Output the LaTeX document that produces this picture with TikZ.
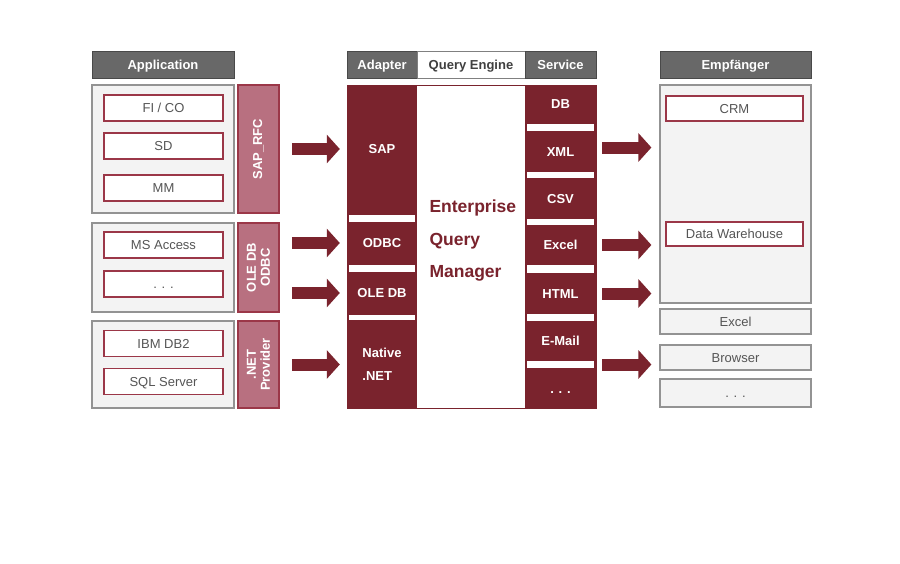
\documentclass[tikz,border=0pt]{standalone}
\usepackage{fontspec}
\setmainfont{Liberation Sans}
\usetikzlibrary{arrows.meta, positioning}

\definecolor{maroon}{RGB}{122,35,45}
\definecolor{rose}{RGB}{184,112,128}
\definecolor{roseline}{RGB}{155,55,72}
\definecolor{headgray}{RGB}{104,104,104}
\definecolor{boxgray}{RGB}{243,243,243}
\definecolor{txtgray}{RGB}{85,85,85}

\tikzset{
  onerow/.style={text height=9.4pt, text depth=0pt},
  head/.style={draw=headgray!70!black, fill=headgray, text=white, line width=1pt, onerow,
    font=\bfseries\fontsize{13}{15}\selectfont, inner sep=0pt, minimum height=27pt},
  group/.style={draw=gray!85, fill=boxgray, line width=1.2pt, inner sep=0pt, minimum width=142pt},
  item/.style={draw=roseline, fill=white, line width=1.3pt, text=txtgray, inner sep=0pt, onerow,
    font=\fontsize{13}{15}\selectfont},
  side/.style={draw=roseline, fill=rose, text=white, line width=1.2pt, rotate=90, align=center,
    font=\bfseries\fontsize{13}{14}\selectfont, inner sep=0pt, minimum height=41pt},
  blk/.style={fill=maroon, text=white, inner sep=0pt, onerow, font=\bfseries\fontsize{13}{15}\selectfont},
  gapbar/.style={fill=white},
  recvbox/.style={draw=gray!85, fill=boxgray, line width=1.2pt, text=txtgray, inner sep=0pt, onerow,
    font=\fontsize{13}{15}\selectfont, minimum width=151pt},
  bigarrow/.style={maroon, line width=12pt, -{Triangle[length=13pt,width=28pt]}},
}

\begin{document}
\begin{tikzpicture}[x=1pt, y=-1pt]
  \useasboundingbox (0,0) rectangle (900,563);

  % Headers
  \node[head, minimum width=142pt] (happ) at (163,64.5) {Application};
  \node[head, minimum width=70pt] (hadp) at (382,64.5) {Adapter};
  \node[head, minimum width=108pt, fill=white, text=txtgray!75!black, draw=gray] (hqe) at (471,64.5) {Query Engine};
  \node[head, minimum width=71pt] (hsvc) at (560.5,64.5) {Service};
  \node[head, minimum width=151pt] (hrecv) at (735.5,64.5) {Empfänger};

  % Application side
  \node[group, minimum height=128pt] (g1) at (163,149) {};
  \node[group, minimum height=89pt] (g2) at (163,267.5) {};
  \node[group, minimum height=87pt] (g3) at (163,364.5) {};

  \tikzset{every node/.append style={minimum width=119pt, minimum height=26pt}}
  \node[item] (fico) at (163.5,108) {FI / CO};
  \node[item] (sd) at (163.5,146) {SD};
  \node[item] (mm) at (163.5,188) {MM};
  \node[item] (msacc) at (163.5,245) {MS Access};
  \node[item] (odots) at (163.5,284) {. . .};
  \node[item] (db2) at (163.5,343.5) {IBM DB2};
  \node[item] (sql) at (163.5,381.5) {SQL Server};
  \tikzset{every node/.style={}}

  \node[side, minimum width=128pt] (rfc) at (258.5,149) {SAP\_RFC};
  \node[side, minimum width=89pt] (oleodbc) at (258.5,267.5) {OLE DB\\ODBC};
  \node[side, minimum width=87pt] (netprov) at (258.5,364.5) {.NET\\Provider};

  % Query engine body
  \draw[maroon, fill=white, line width=1pt] (347,85) rectangle (596,408);
  \fill[maroon] (347,85) rectangle (417,408);
  \fill[maroon] (525,85) rectangle (596,408);

  % Adapter blocks
  \node[blk, minimum width=70pt, minimum height=128pt] (sap) at (382,149) {SAP};
  \node[blk, minimum width=70pt, minimum height=40pt] (odbc) at (382,243) {ODBC};
  \node[blk, minimum width=70pt, minimum height=40pt] (oledb) at (382,293) {OLE DB};
  \node[blk, minimum width=70pt, minimum height=87pt, align=left, text height=, text depth=,
    font=\bfseries\fontsize{13}{23}\selectfont] (native) at (382,364.5) {Native\\.NET};
  \foreach \ya/\yb in {215/222, 265/272, 315/320}
    \fill[gapbar] (349,\ya) rectangle (415,\yb);

  % Service blocks
  \node[blk, minimum width=71pt, minimum height=38pt] (db) at (560.5,104) {DB};
  \node[blk, minimum width=71pt, minimum height=39pt] (xml) at (560.5,151.5) {XML};
  \node[blk, minimum width=71pt, minimum height=39pt] (csv) at (560.5,198.5) {CSV};
  \node[blk, minimum width=71pt, minimum height=38pt] (excel) at (560.5,245) {Excel};
  \node[blk, minimum width=71pt, minimum height=39pt] (html) at (560.5,293.5) {HTML};
  \node[blk, minimum width=71pt, minimum height=38pt] (email) at (560.5,341) {E-Mail};
  \node[blk, minimum width=71pt, minimum height=39pt] (sdots) at (560.5,388.5) {. . .};
  \foreach \ya/\yb in {124/131, 172/178, 219/225, 265/273, 314/321, 361/368}
    \fill[gapbar] (527,\ya) rectangle (594,\yb);

  \node[anchor=west, align=left, text=maroon, font=\bfseries\fontsize{17.5}{32.5}\selectfont]
    (eqm) at (426,241) {Enterprise\\Query\\Manager};

  % Receivers
  \node[recvbox, minimum height=218pt] (recv) at (735.5,194) {};
  \node[item, minimum width=137pt, minimum height=25pt] (crm) at (734.5,108.5) {CRM};
  \node[item, minimum width=137pt, minimum height=24pt] (dwh) at (734.5,234) {Data Warehouse};
  \node[recvbox, minimum height=25pt] (rexcel) at (735.5,321.5) {Excel};
  \node[recvbox, minimum height=25pt] (browser) at (735.5,357.5) {Browser};
  \node[recvbox, minimum height=28pt] (rdots) at (735.5,393) {. . .};

  % Arrows into the adapter
  \foreach \n in {sap, odbc, oledb, native}
    \draw[bigarrow] ([xshift=-55pt]\n.west) -- ([xshift=-7pt]\n.west);

  % Arrows out of the service
  \draw[bigarrow] ([xshift=6pt,yshift=4pt]xml.east) -- ([xshift=-8pt,yshift=4pt]recv.west |- xml.east);
  \draw[bigarrow] ([xshift=6pt]excel.east) -- ([xshift=-8pt]recv.west |- excel.east);
  \draw[bigarrow] ([xshift=6pt]html.east) -- ([xshift=-8pt]recv.west |- html.east);
  \draw[bigarrow] ([xshift=6pt]email.east |- native.east) -- ([xshift=-8pt]recv.west |- native.east);
\end{tikzpicture}
\end{document}
